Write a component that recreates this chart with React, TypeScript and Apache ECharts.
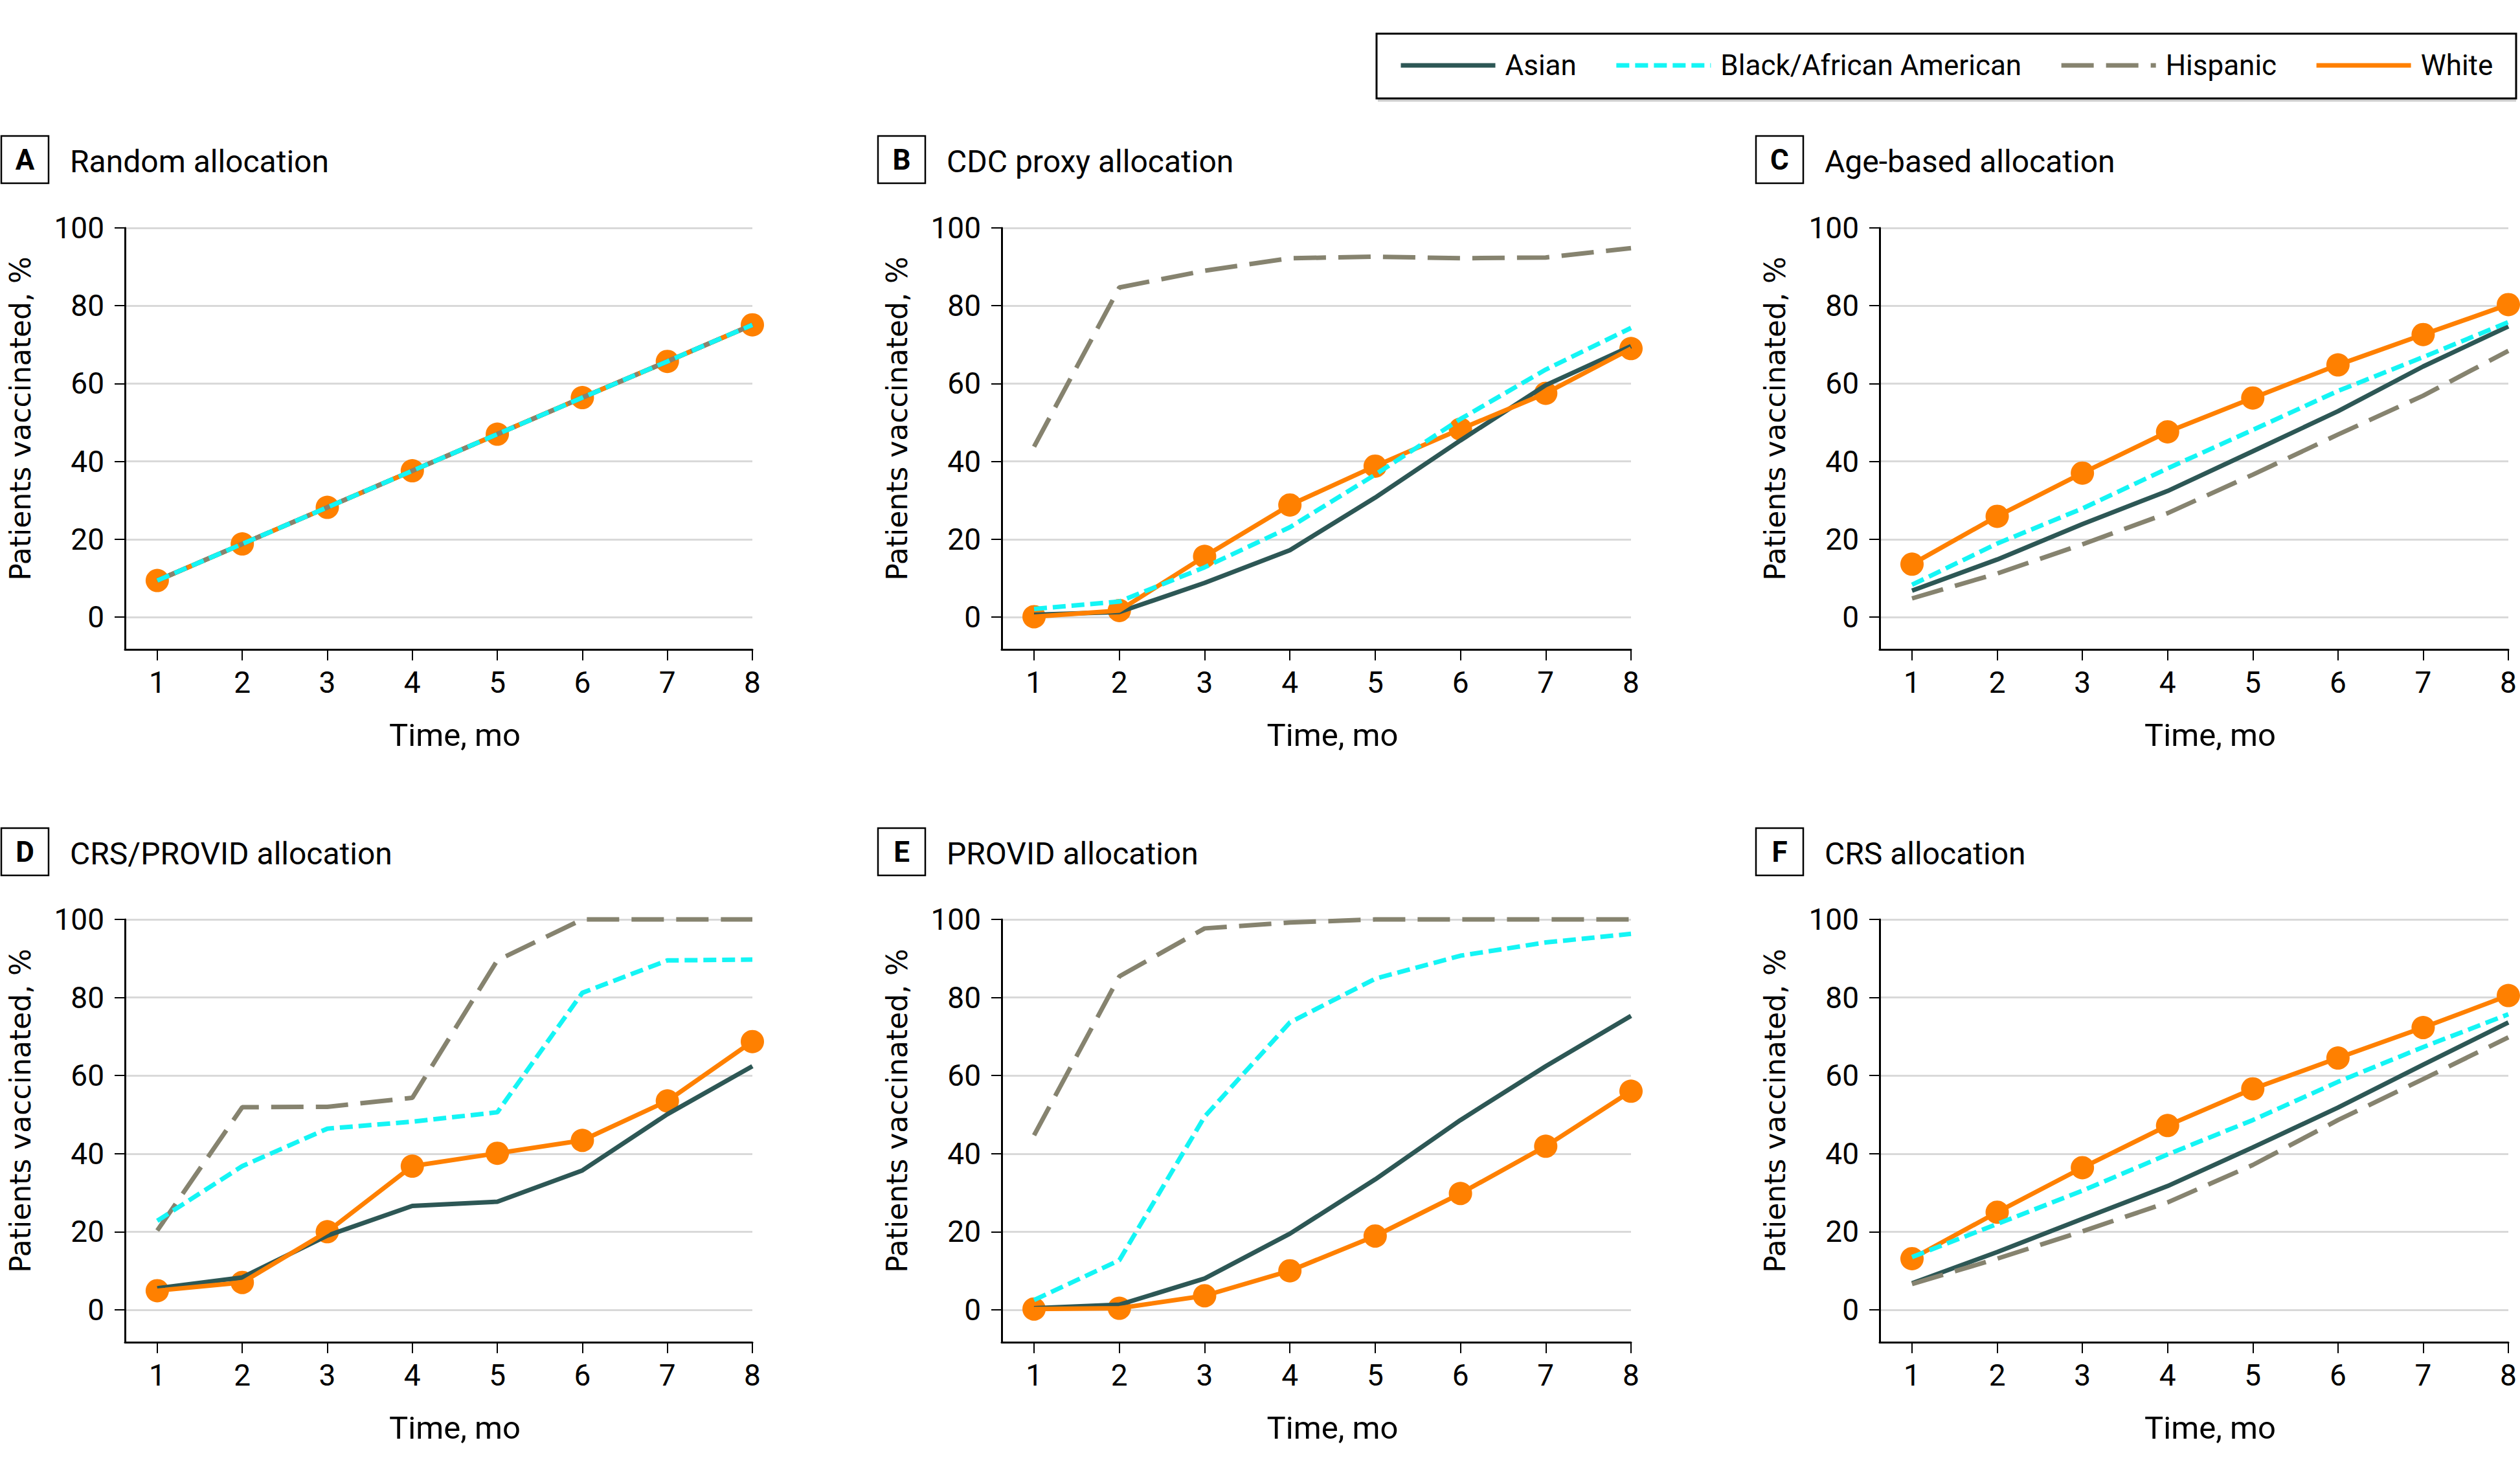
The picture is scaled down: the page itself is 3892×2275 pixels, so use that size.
import React, { useEffect, useRef } from "react";
import * as echarts from "echarts";

const months = [1, 2, 3, 4, 5, 6, 7, 8];
const yTicks = [0, 20, 40, 60, 80, 100];
const groups = ["Asian", "Black/African American", "Hispanic", "White"];

const panelLetters = ["A", "B", "C", "D", "E", "F"];
const panelTitles = [
  "Random allocation",
  "CDC proxy allocation",
  "Age-based allocation",
  "CRS/PROVID allocation",
  "PROVID allocation",
  "CRS allocation",
];

// Panel A – Random allocation
const randomAsian = [9.4, 18.8, 28.2, 37.6, 47.0, 56.4, 65.7, 75.1];
const randomBlack = [9.4, 18.8, 28.2, 37.6, 47.0, 56.4, 65.7, 75.1];
const randomHispanic = [9.4, 18.8, 28.2, 37.6, 47.0, 56.4, 65.7, 75.1];
const randomWhite = [9.4, 18.8, 28.2, 37.6, 47.0, 56.4, 65.7, 75.1];

// Panel B – CDC proxy allocation
const cdcAsian = [0.6, 1.3, 8.8, 17.2, 30.7, 45.4, 59.6, 69.6];
const cdcBlack = [2.1, 4.0, 12.8, 23.1, 36.6, 50.9, 63.6, 74.3];
const cdcHispanic = [43.8, 84.7, 89.0, 92.2, 92.6, 92.2, 92.4, 94.8];
const cdcWhite = [0.1, 1.7, 15.6, 28.8, 38.8, 48.3, 57.5, 69.0];

// Panel C – Age-based allocation
const ageAsian = [6.8, 14.8, 23.9, 32.4, 42.6, 52.9, 64.4, 74.7];
const ageBlack = [8.3, 18.9, 27.9, 38.2, 48.1, 58.1, 66.8, 75.8];
const ageHispanic = [4.8, 11.2, 18.7, 26.7, 36.6, 46.9, 56.9, 68.4];
const ageWhite = [13.6, 25.9, 37.0, 47.6, 56.3, 64.8, 72.6, 80.3];

// Panel D – CRS/PROVID allocation
const crsProvidAsian = [5.5, 8.3, 19.0, 26.6, 27.7, 35.7, 50.1, 62.4];
const crsProvidBlack = [22.8, 36.8, 46.4, 48.2, 50.6, 81.2, 89.5, 89.7];
const crsProvidHispanic = [20.3, 51.9, 52.0, 54.3, 89.5, 100, 100, 100];
const crsProvidWhite = [4.9, 7.0, 20.0, 36.8, 40.1, 43.4, 53.5, 68.7];

// Panel E – PROVID allocation
const providAsian = [0.4, 1.3, 8.0, 19.5, 33.4, 48.6, 62.4, 75.3];
const providBlack = [2.5, 12.7, 49.5, 73.6, 84.8, 90.7, 94.1, 96.3];
const providHispanic = [44.7, 85.4, 97.7, 99.2, 100, 100, 100, 100];
const providWhite = [0.2, 0.4, 3.6, 10.0, 18.9, 29.8, 41.9, 56.0];

// Panel F – CRS allocation
const crsAsian = [6.8, 14.8, 23.3, 31.7, 41.6, 51.8, 62.8, 73.6];
const crsBlack = [13.5, 22.0, 30.5, 39.8, 48.6, 58.4, 67.3, 75.7];
const crsHispanic = [6.6, 13.1, 20.1, 27.5, 37.1, 48.6, 59.1, 69.8];
const crsWhite = [13.1, 25.0, 36.4, 47.2, 56.6, 64.5, 72.3, 80.5];

const panelData = [
  [randomAsian, randomBlack, randomHispanic, randomWhite],
  [cdcAsian, cdcBlack, cdcHispanic, cdcWhite],
  [ageAsian, ageBlack, ageHispanic, ageWhite],
  [crsProvidAsian, crsProvidBlack, crsProvidHispanic, crsProvidWhite],
  [providAsian, providBlack, providHispanic, providWhite],
  [crsAsian, crsBlack, crsHispanic, crsWhite],
];

const COLORS = {
  asian: "#2D5755",
  black: "#14F5F5",
  hispanic: "#86836F",
  white: "#FF8000",
};

const FONT = "Roboto, 'Liberation Sans', sans-serif";
const NAME_FONT = "'DejaVu Sans', 'Open Sans', sans-serif";

// layout (pixels)
const colX = [193, 1547, 2903];
const colW = [969, 972, 971];
const rowTop = [352, 1420];
const rowH = [651, 653];
const titleTop = [210, 1279];

function pairs(vals: number[]) {
  return months.map((m, i) => [m, vals[i]]);
}

function buildOption() {
  const grid: any[] = [];
  const xAxis: any[] = [];
  const yAxis: any[] = [];
  const series: any[] = [];
  const graphic: any[] = [];

  for (let p = 0; p < 6; p++) {
    const r = Math.floor(p / 3);
    const c = p % 3;
    grid.push({
      left: colX[c],
      top: rowTop[r],
      width: colW[c],
      height: rowH[r],
      containLabel: false,
    });
    xAxis.push({
      gridIndex: p,
      type: "value",
      min: 0.62,
      max: 8,
      name: "Time, mo",
      nameLocation: "middle",
      nameGap: 108,
      nameTextStyle: {
        fontFamily: FONT,
        fontSize: 49,
        color: "#000",
        padding: [0, 0, 0, 50],
      },
      axisLine: { show: true, onZero: false, lineStyle: { color: "#000", width: 3 } },
      axisTick: {
        show: true,
        customValues: months,
        length: 17,
        lineStyle: { color: "#000", width: 2 },
      },
      axisLabel: {
        customValues: months,
        margin: 28,
        fontFamily: FONT,
        fontSize: 46,
        color: "#000",
      },
      splitLine: { show: false },
    });
    yAxis.push({
      gridIndex: p,
      type: "value",
      min: -8.3,
      max: 100,
      name: "Patients vaccinated, %",
      nameLocation: "middle",
      nameGap: 140,
      nameTextStyle: {
        fontFamily: NAME_FONT,
        fontSize: 44,
        color: "#000",
        padding: [0, 0, 0, 62],
      },
      axisLine: { show: true, onZero: false, lineStyle: { color: "#000", width: 3 } },
      axisTick: {
        show: true,
        customValues: yTicks,
        length: 16,
        lineStyle: { color: "#000", width: 2 },
      },
      axisLabel: {
        customValues: yTicks,
        margin: 32,
        fontFamily: FONT,
        fontSize: 46,
        color: "#000",
      },
      splitLine: { show: true, lineStyle: { color: "#D9D9D9", width: 3 } },
    });

    const [asian, black, hispanic, white] = panelData[p];
    series.push({
      name: "Asian",
      type: "line",
      xAxisIndex: p,
      yAxisIndex: p,
      data: pairs(asian),
      symbol: "none",
      showSymbol: false,
      clip: false,
      lineStyle: { color: COLORS.asian, width: 7 },
      itemStyle: { color: COLORS.asian },
    });
    series.push({
      name: "White",
      type: "line",
      xAxisIndex: p,
      yAxisIndex: p,
      data: pairs(white),
      symbol: "none",
      showSymbol: false,
      clip: false,
      lineStyle: { color: COLORS.white, width: 7 },
      itemStyle: { color: COLORS.white },
    });
    series.push({
      name: "Hispanic",
      type: "line",
      xAxisIndex: p,
      yAxisIndex: p,
      data: pairs(hispanic),
      symbol: "none",
      showSymbol: false,
      clip: false,
      lineStyle: { color: COLORS.hispanic, width: 7, type: [50, 19] },
      itemStyle: { color: COLORS.hispanic },
    });
    series.push({
      name: "Black/African American",
      type: "line",
      xAxisIndex: p,
      yAxisIndex: p,
      data: pairs(black),
      symbol: "none",
      showSymbol: false,
      clip: false,
      lineStyle: { color: COLORS.black, width: 7, type: [20, 9] },
      itemStyle: { color: COLORS.black },
    });
    series.push({
      name: "White",
      type: "scatter",
      xAxisIndex: p,
      yAxisIndex: p,
      data: pairs(white),
      symbol: "circle",
      symbolSize: 36,
      clip: false,
      itemStyle: { color: COLORS.white, opacity: 1 },
    });

    // panel letter box and title
    const bx = colX[c] - 191;
    const by = titleTop[r];
    graphic.push({
      type: "rect",
      shape: { x: bx, y: by, width: 73, height: 73 },
      style: { fill: "#fff", stroke: "#000", lineWidth: 2.5 },
    });
    graphic.push({
      type: "text",
      x: bx + 36.5,
      y: by + 37,
      style: {
        text: panelLetters[p],
        fontFamily: FONT,
        fontWeight: "bold",
        fontSize: 44,
        fill: "#000",
        align: "center",
        verticalAlign: "middle",
      },
    });
    graphic.push({
      type: "text",
      x: bx + 106,
      y: by + 39,
      style: {
        text: panelTitles[p],
        fontFamily: FONT,
        fontSize: 48,
        fill: "#000",
        align: "left",
        verticalAlign: "middle",
      },
    });
  }

  // legend frame with a faint shadow line under it
  graphic.push({
    type: "rect",
    z: -11,
    shape: { x: 2128, y: 153, width: 1758, height: 4 },
    style: { fill: "#CFCFCF" },
  });
  graphic.push({
    type: "rect",
    z: -10,
    shape: { x: 2126, y: 52, width: 1760, height: 100 },
    style: { fill: "#fff", stroke: "#000", lineWidth: 3 },
  });

  return {
    backgroundColor: "#fff",
    animation: false,
    grid,
    xAxis,
    yAxis,
    series,
    graphic,
    legend: {
      data: groups,
      left: 2160,
      top: 79,
      padding: 0,
      itemWidth: 146,
      itemHeight: 45,
      itemGap: 58,
      z: 20,
      selectedMode: false,
      itemStyle: { opacity: 0 },
      lineStyle: { width: 7 },
      textStyle: {
        fontFamily: FONT,
        fontSize: 44,
        color: "#000",
        padding: [0, 0, 0, 10],
      },
    },
  };
}

export default function App() {
  const ref = useRef<HTMLDivElement>(null);
  useEffect(() => {
    if (!ref.current) return;
    const chart = echarts.init(ref.current, null, { renderer: "svg" });
    chart.setOption(buildOption() as any);
    return () => chart.dispose();
  }, []);
  return (
    <div
      ref={ref}
      style={{
        position: "fixed",
        left: 0,
        top: 0,
        width: 3892,
        height: 2275,
        background: "#fff",
      }}
    />
  );
}
